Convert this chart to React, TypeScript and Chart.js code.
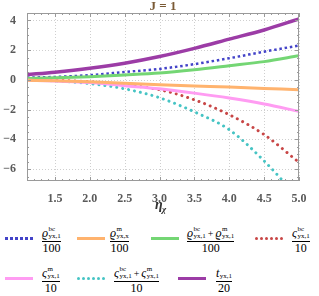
import React, { useEffect, useRef } from "react";
import { Chart, registerables } from "chart.js";

Chart.register(...registerables);

const etaValues = [1.1, 1.5, 2.0, 2.5, 3.0, 3.5, 4.0, 4.5, 5.0];
const rhoBc = [0.15, 0.2, 0.32, 0.53, 0.74, 1.06, 1.46, 1.9, 2.31];
const rhoMx = [-0.02, -0.06, -0.13, -0.23, -0.33, -0.41, -0.48, -0.57, -0.66];
const rhoSum = [0.1, 0.15, 0.22, 0.33, 0.46, 0.68, 0.95, 1.23, 1.62];
const sigmaBc = [0.0, -0.03, -0.12, -0.33, -0.66, -1.34, -2.34, -3.68, -5.55];
const sigmaM = [-0.03, -0.07, -0.18, -0.39, -0.6, -0.89, -1.22, -1.62, -2.12];
const sigmaSum = [-0.02, -0.07, -0.25, -0.6, -1.2, -2.15, -3.35, -5.45, -8.0];
const tValues = [0.36, 0.52, 0.78, 1.12, 1.57, 2.12, 2.74, 3.36, 4.1];

const xTicks = [1.5, 2.0, 2.5, 3.0, 3.5, 4.0, 4.5, 5.0];
const yTicks = [-6, -4, -2, 0, 2, 4];
const xRange = [1.1, 5.0];
const yRange = [-6.8, 4.5];

const COLORS = {
  blue: "#4343c8",
  orange: "#ffb36e",
  green: "#74d674",
  red: "#c84646",
  pink: "#ff9cf2",
  cyan: "#46c4c4",
  purple: "#9c3ca6",
};

const SERIF = '"Liberation Serif", "DejaVu Serif", serif';

const framePlugin = {
  id: "mmaFrame",
  beforeDatasetsDraw(chart: any) {
    const { ctx, chartArea: a, scales } = chart;
    ctx.save();
    ctx.strokeStyle = "#cfcfcf";
    ctx.lineWidth = 1;
    ctx.setLineDash([1, 2]);
    xTicks.forEach((v) => {
      const x = Math.round(scales.x.getPixelForValue(v)) + 0.5;
      ctx.beginPath();
      ctx.moveTo(x, a.top);
      ctx.lineTo(x, a.bottom);
      ctx.stroke();
    });
    yTicks.forEach((v) => {
      const y = Math.round(scales.y.getPixelForValue(v)) + 0.5;
      ctx.beginPath();
      ctx.moveTo(a.left, y);
      ctx.lineTo(a.right, y);
      ctx.stroke();
    });
    ctx.restore();
  },
  afterDatasetsDraw(chart: any) {
    const { ctx, chartArea: a, scales } = chart;
    ctx.save();
    ctx.strokeStyle = "#9a9a9a";
    ctx.lineWidth = 1;
    ctx.setLineDash([]);
    ctx.strokeRect(a.left + 0.5, a.top + 0.5, a.right - a.left - 1, a.bottom - a.top - 1);
    for (let i = 11; i <= 50; i++) {
      const v = i / 10;
      const major = i % 5 === 0;
      const len = major ? 4 : 2;
      const x = Math.round(scales.x.getPixelForValue(v)) + 0.5;
      ctx.beginPath();
      ctx.moveTo(x, a.bottom);
      ctx.lineTo(x, a.bottom - len);
      ctx.moveTo(x, a.top);
      ctx.lineTo(x, a.top + len);
      ctx.stroke();
    }
    for (let i = -13; i <= 9; i++) {
      const v = i / 2;
      const major = i % 4 === 0;
      const len = major ? 4 : 2;
      const y = Math.round(scales.y.getPixelForValue(v)) + 0.5;
      ctx.beginPath();
      ctx.moveTo(a.left, y);
      ctx.lineTo(a.left + len, y);
      ctx.moveTo(a.right, y);
      ctx.lineTo(a.right - len, y);
      ctx.stroke();
    }
    ctx.restore();
  },
  afterDraw(chart: any) {
    const { ctx } = chart;
    ctx.save();
    ctx.fillStyle = "#7a5a35";
    ctx.font = `bold 13px ${SERIF}`;
    ctx.textAlign = "center";
    ctx.textBaseline = "alphabetic";
    ctx.fillText("J = 1", 163, 10);
    ctx.fillStyle = "#333";
    ctx.textAlign = "left";
    ctx.font = `italic bold 14px ${SERIF}`;
    ctx.fillText("η", 155, 209);
    ctx.font = `italic bold 9px ${SERIF}`;
    ctx.fillText("χ", 162, 212);
    ctx.restore();
  },
};

function Sym({ base, sup, sub }: { base: string; sup?: string; sub: string }) {
  return (
    <span style={{ display: "inline-flex", alignItems: "center" }}>
      <span style={{ fontStyle: "italic", fontSize: 12, lineHeight: "14px" }}>{base}</span>
      <span
        style={{
          display: "inline-flex",
          flexDirection: "column",
          fontSize: 7,
          lineHeight: "7px",
          marginLeft: 0.5,
        }}
      >
        <span>{sup || "\u00a0"}</span>
        <span>{sub}</span>
      </span>
    </span>
  );
}

function Frac({ num, den }: { num: React.ReactNode; den: string }) {
  return (
    <div style={{ display: "inline-flex", flexDirection: "column", alignItems: "stretch" }}>
      <div style={{ display: "flex", alignItems: "center", justifyContent: "center", height: 15, whiteSpace: "nowrap" }}>
        {num}
      </div>
      <div
        style={{
          borderTop: "1px solid #000",
          textAlign: "center",
          fontSize: 12,
          lineHeight: "11px",
          paddingTop: 1,
        }}
      >
        {den}
      </div>
    </div>
  );
}

type Item = {
  x: number;
  row: number;
  lx: number;
  color: string;
  dotted: "square" | "round" | null;
  label: React.ReactNode;
};

const plus = <span style={{ fontSize: 10, margin: "0 2px" }}>+</span>;

const legendItems: Item[] = [
  { x: 5, row: 0, lx: 42, color: COLORS.blue, dotted: "square", label: <Frac num={<Sym base="ϱ" sup="bc" sub="yx,1" />} den="100" /> },
  { x: 77, row: 0, lx: 110, color: COLORS.orange, dotted: null, label: <Frac num={<Sym base="ϱ" sup="m" sub="yx,x" />} den="100" /> },
  {
    x: 151, row: 0, lx: 187, color: COLORS.green, dotted: null,
    label: <Frac num={<>{<Sym base="ϱ" sup="bc" sub="yx,1" />}{plus}{<Sym base="ϱ" sup="m" sub="yx,1" />}</>} den="100" />,
  },
  { x: 255, row: 0, lx: 292, color: COLORS.red, dotted: "round", label: <Frac num={<Sym base="ς" sup="bc" sub="yx,1" />} den="10" /> },
  { x: 5, row: 1, lx: 42, color: COLORS.pink, dotted: null, label: <Frac num={<Sym base="ς" sup="m" sub="yx,1" />} den="10" /> },
  {
    x: 77, row: 1, lx: 114, color: COLORS.cyan, dotted: "round",
    label: <Frac num={<>{<Sym base="ς" sup="bc" sub="yx,1" />}{plus}{<Sym base="ς" sup="m" sub="yx,1" />}</>} den="10" />,
  },
  { x: 178, row: 1, lx: 216, color: COLORS.purple, dotted: null, label: <Frac num={<Sym base="t" sub="yx,1" />} den="20" /> },
];

const rowY = [238, 278];

function Sample({ color, dotted }: { color: string; dotted: "square" | "round" | null }) {
  if (!dotted) {
    return <div style={{ width: 28, height: 3, background: color }} />;
  }
  const n = 6;
  return (
    <div style={{ width: 28, height: 3, display: "flex", justifyContent: "space-between" }}>
      {Array.from({ length: n }).map((_, i) => (
        <div
          key={i}
          style={{ width: 3, height: 3, background: color, borderRadius: dotted === "round" ? 1.5 : 0 }}
        />
      ))}
    </div>
  );
}

export default function App() {
  const ref = useRef<HTMLCanvasElement | null>(null);
  useEffect(() => {
    if (!ref.current) return;
    const mk = (data: number[], color: string, width: number, dash?: number[], cap: any = "butt") => ({
      data: data.map((y, i) => ({ x: etaValues[i], y })),
      borderColor: color,
      backgroundColor: color,
      borderWidth: width,
      borderDash: dash || [],
      borderCapStyle: cap,
      pointRadius: 0,
      cubicInterpolationMode: "monotone" as const,
      fill: false,
    });
    const chart = new Chart(ref.current, {
      type: "line",
      data: {
        datasets: [
          mk(rhoMx, COLORS.orange, 3),
          mk(sigmaM, COLORS.pink, 3),
          mk(rhoSum, COLORS.green, 3),
          mk(tValues, COLORS.purple, 3.5),
          mk(sigmaBc, COLORS.red, 3, [0.01, 6], "round"),
          mk(sigmaSum, COLORS.cyan, 3, [0.01, 6], "round"),
          mk(rhoBc, COLORS.blue, 2.5, [2.5, 2.8]),
        ] as any,
      },
      options: {
        animation: false,
        responsive: false,
        devicePixelRatio: 1,
        layout: { padding: { top: 13, right: 20, left: 0, bottom: 0 } },
        plugins: { legend: { display: false }, title: { display: false }, tooltip: { enabled: false } },
        scales: {
          x: {
            type: "linear",
            min: xRange[0],
            max: xRange[1],
            grid: { display: false },
            border: { display: false },
            afterBuildTicks: (s: any) => {
              s.ticks = xTicks.map((v) => ({ value: v }));
            },
            afterFit: (s: any) => {
              s.height = 34;
            },
            ticks: {
              padding: 3,
              maxRotation: 0,
              autoSkip: false,
              color: "#5a5a5a",
              font: { family: SERIF, size: 12, weight: "bold" },
              callback: (v: any) => Number(v).toFixed(1),
            },
          },
          y: {
            type: "linear",
            min: yRange[0],
            max: yRange[1],
            grid: { display: false },
            border: { display: false },
            afterBuildTicks: (s: any) => {
              s.ticks = yTicks.map((v) => ({ value: v }));
            },
            afterFit: (s: any) => {
              s.width = 27;
            },
            ticks: {
              padding: 3,
              autoSkip: false,
              color: "#5a5a5a",
              font: { family: SERIF, size: 12, weight: "bold" },
              callback: (v: any) => (Number(v) < 0 ? "\u2212" + Math.abs(Number(v)) : String(v)),
            },
          },
        },
      },
      plugins: [framePlugin],
    } as any);
    return () => chart.destroy();
  }, []);

  return (
    <div
      style={{
        position: "fixed",
        left: 0,
        top: 0,
        width: 319,
        height: 296,
        background: "#fff",
        fontFamily: SERIF,
        color: "#000",
      }}
    >
      <canvas ref={ref} width={319} height={215} style={{ display: "block", width: 319, height: 215 }} />
      {legendItems.map((it, i) => (
        <React.Fragment key={i}>
          <div style={{ position: "absolute", left: it.x, top: rowY[it.row] - 1.5 }}>
            <Sample color={it.color} dotted={it.dotted} />
          </div>
          <div style={{ position: "absolute", left: it.lx, top: rowY[it.row] - 15 }}>{it.label}</div>
        </React.Fragment>
      ))}
    </div>
  );
}
